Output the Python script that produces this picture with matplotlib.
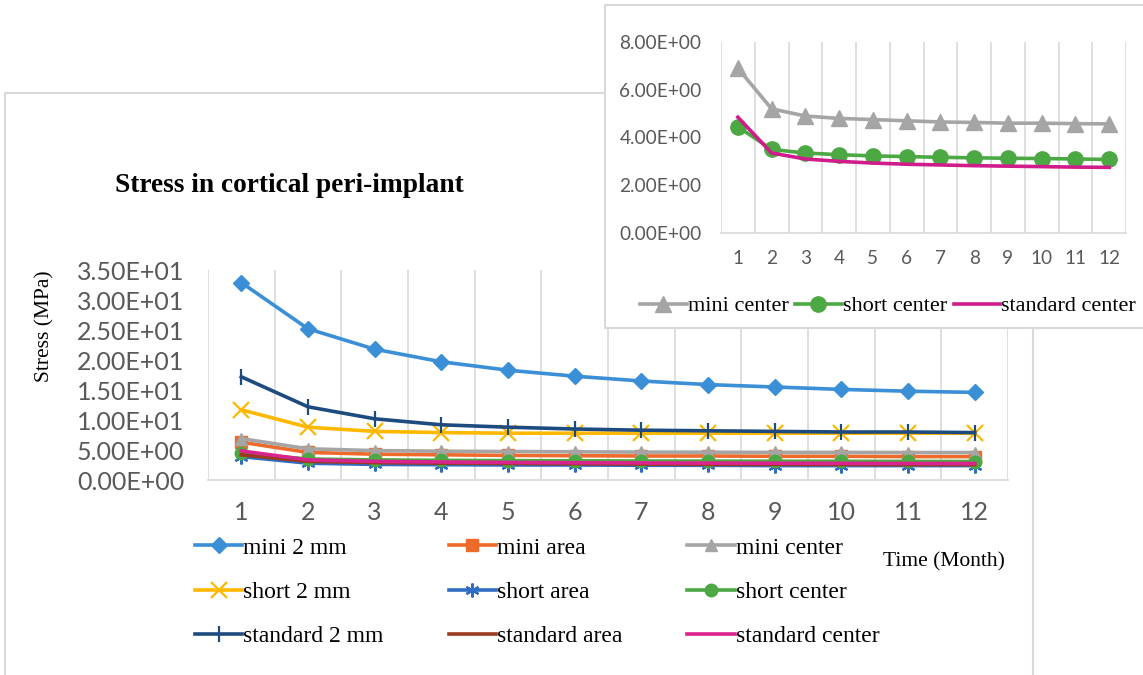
import numpy as np
import matplotlib
matplotlib.use("Agg")
import matplotlib.pyplot as plt
from matplotlib.patches import Rectangle
from matplotlib.ticker import FuncFormatter

months = list(range(1, 13))

mini_2mm = [32.9, 25.2, 21.8, 19.7, 18.3, 17.3, 16.5, 15.9, 15.5, 15.1, 14.8, 14.6]
mini_area = [6.3, 4.6, 4.3, 4.2, 4.1, 4.05, 4.0, 4.0, 3.95, 3.95, 3.9, 3.9]
mini_center = [6.9, 5.2, 4.9, 4.8, 4.75, 4.7, 4.65, 4.63, 4.6, 4.6, 4.58, 4.57]
short_2mm = [11.7, 8.8, 8.1, 7.9, 7.8, 7.8, 7.8, 7.8, 7.8, 7.8, 7.8, 7.8]
short_area = [3.9, 2.8, 2.6, 2.55, 2.5, 2.5, 2.45, 2.45, 2.4, 2.4, 2.4, 2.4]
short_center = [4.45, 3.5, 3.35, 3.28, 3.23, 3.2, 3.17, 3.15, 3.13, 3.12, 3.1, 3.08]
standard_2mm = [17.2, 12.2, 10.2, 9.2, 8.8, 8.5, 8.3, 8.2, 8.1, 8.0, 8.0, 7.9]
standard_area = [4.2, 3.1, 2.9, 2.8, 2.75, 2.7, 2.65, 2.6, 2.6, 2.58, 2.55, 2.55]
standard_center = [4.85, 3.35, 3.1, 3.0, 2.93, 2.88, 2.85, 2.82, 2.8, 2.78, 2.76, 2.75]

main_yticks = [0, 5, 10, 15, 20, 25, 30, 35]
inset_yticks = [0, 2, 4, 6, 8]

TICK_FONT = "Lato"
SERIF = "Liberation Serif"
TICK_COLOR = "#595959"
GRID = "#D9D9D9"

# (label, values, color, marker, markersize, markeredgewidth)
series = [
    ("mini 2 mm", mini_2mm, "#3A8FD6", "D", 8, 1),
    ("mini area", mini_area, "#ED6A2A", "s", 8, 1),
    ("mini center", mini_center, "#A5A5A5", "^", 9, 1),
    ("short 2 mm", short_2mm, "#FFB800", "x", 11, 1.6),
    ("short area", short_area, "#2F6DC4", (6, 2, 0), 10, 1.6),
    ("short center", short_center, "#4CA843", "o", 9, 1),
    ("standard 2 mm", standard_2mm, "#1D4B80", "|", 12, 1.6),
    ("standard area", standard_area, "#9B3A1E", None, 0, 1),
    ("standard center", standard_center, "#D9238F", None, 0, 1),
]


def sci(v, pos):
    return f"{v:.2E}"


def style_axes(ax, ytop, ticksize, xpad, ypad):
    for s in ["top", "right", "left"]:
        ax.spines[s].set_visible(False)
    ax.spines["bottom"].set_color(GRID)
    ax.spines["bottom"].set_linewidth(1.2)
    ax.set_xlim(0.5, 12.5)
    ax.set_ylim(0, ytop)
    ax.set_xticks(months)
    ax.set_xticks(np.arange(0.5, 13, 1), minor=True)
    ax.grid(which="minor", axis="x", color=GRID, linewidth=1.2)
    ax.tick_params(axis="both", which="both", length=0)
    ax.tick_params(axis="x", pad=xpad)
    ax.tick_params(axis="y", pad=ypad)
    ax.yaxis.set_major_formatter(FuncFormatter(sci))
    for lab in ax.get_xticklabels() + ax.get_yticklabels():
        lab.set_fontfamily(TICK_FONT)
        lab.set_fontsize(ticksize)
        lab.set_color(TICK_COLOR)
    ax.set_facecolor("none")


fig = plt.figure(figsize=(11.43, 6.75), dpi=100)
W, H = 1143, 675


def fx(px):
    return px / W


def fy(py):
    return 1 - py / H


# panel frames
fig.patches.append(Rectangle((fx(5), fy(700)), fx(1033) - fx(5), fy(93) - fy(700),
                             transform=fig.transFigure, facecolor="white",
                             edgecolor=GRID, linewidth=1.5, zorder=0.2))
fig.patches.append(Rectangle((fx(605), fy(328)), fx(1143) - fx(605) + 0.01, fy(5) - fy(328),
                             transform=fig.transFigure, facecolor="white",
                             edgecolor=GRID, linewidth=1.5, zorder=2))

# main chart
ax = fig.add_axes([fx(208), fy(480), fx(1008) - fx(208), fy(270) - fy(480)])
ax.set_zorder(1)
ax.set_yticks(main_yticks)
lines = {}
for label, vals, color, marker, ms, mew in series:
    (ln,) = ax.plot(months, vals, color=color, lw=2.6, marker=marker, ms=ms,
                    mew=mew, mec=color, mfc=color, label=label)
    lines[label] = ln
style_axes(ax, 35, 18, 15, 17)

order = ["mini 2 mm", "short 2 mm", "standard 2 mm",
         "mini area", "short area", "standard area",
         "mini center", "short center", "standard center"]
fig.legend([lines[k] for k in order], order, ncol=3, loc="upper left",
           bbox_to_anchor=(fx(195), fy(537)), frameon=False,
           prop={"family": SERIF, "size": 17}, handlelength=2.0,
           handletextpad=0.05, columnspacing=2.75, labelspacing=0.97,
           borderaxespad=0, borderpad=0)

fig.text(fx(115), fy(185), "Stress in cortical peri-implant", family=SERIF,
         weight="bold", size=19.7, va="center", ha="left")
fig.text(fx(45), fy(326), "Stress (MPa)", family=SERIF, size=15.5,
         rotation=90, va="center", ha="center")
fig.text(fx(883), fy(562), "Time (Month)", family=SERIF, size=15.5,
         va="center", ha="left")

# inset chart
ax2 = fig.add_axes([fx(721), fy(233), fx(1126) - fx(721), fy(42) - fy(233)])
ax2.set_zorder(3)
ax2.set_yticks(inset_yticks)
inset_series = [
    ("mini center", mini_center, "#A5A5A5", "^", 11),
    ("short center", short_center, "#4CA843", "o", 11),
    ("standard center", standard_center, "#D01C8B", None, 0),
]
for label, vals, color, marker, ms in inset_series:
    ax2.plot(months, vals, color=color, lw=2.6, marker=marker, ms=ms,
             mec=color, mfc=color, label=label)
style_axes(ax2, 8, 13.7, 12, 14)
ax2.legend(loc="center", bbox_to_anchor=(fx(888), fy(306)),
           bbox_transform=fig.transFigure, ncol=3, frameon=False,
           prop={"family": SERIF, "size": 16}, handlelength=2.1,
           handletextpad=0.05, columnspacing=0.3, borderaxespad=0, borderpad=0)

fig.savefig("out.png", dpi=100)
